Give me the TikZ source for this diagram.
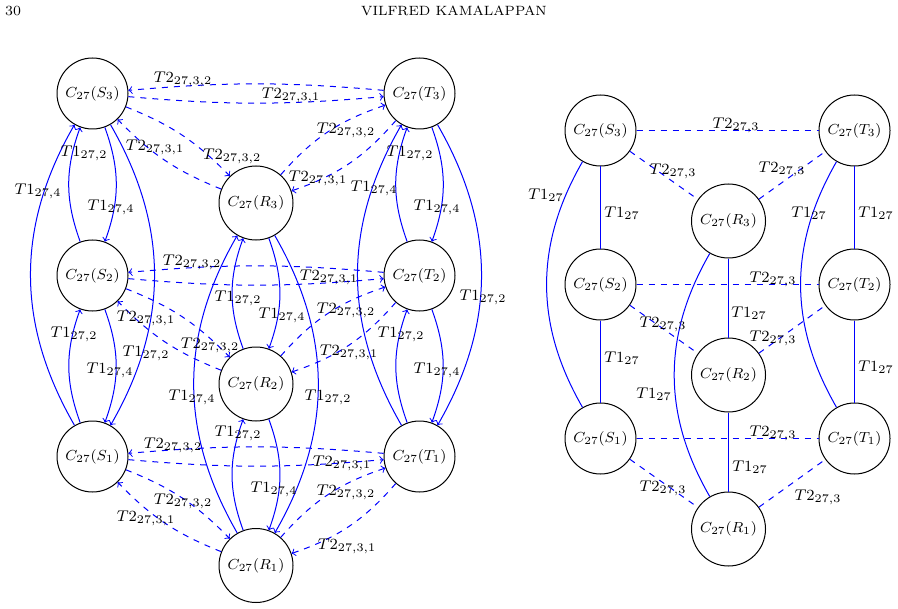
\documentclass[tikz,border=0pt]{standalone}
\usepackage{graphicx}
\newcommand\mynl[1]{\scalebox{0.91}{$#1$}}
\newcommand\myel[1]{\scalebox{0.97}{$#1$}}
\begin{document}
\begin{tikzpicture}[x=0.5pt,y=-0.5pt,
  cnode/.style={circle,draw,line width=0.5pt,minimum size=35.5pt,inner sep=0pt,font=\footnotesize},
  rnode/.style={cnode,minimum size=37pt},
  tone/.style={draw=blue,line width=0.5pt},
  ttwo/.style={draw=blue,line width=0.5pt,dashed},
  lab/.style={font=\footnotesize,inner sep=0pt},
  hdr/.style={font=\scriptsize,inner sep=0pt}]
\useasboundingbox (0,0) rectangle (898,609);
% header
\node[hdr] (pg) at (13,11) {30};
\node[hdr] (au) at (454,11) {\scalebox{0.96}{VILFRED KAMALAPPAN}};
% ---------- left diagram nodes
\node[cnode] (LS3) at (92.5,93.5) {\mynl{C_{27}(S_3)}};
\node[cnode] (LS2) at (92.5,275.5) {\mynl{C_{27}(S_2)}};
\node[cnode] (LS1) at (92.5,456.5) {\mynl{C_{27}(S_1)}};
\node[rnode] (LR3) at (256,203) {\mynl{C_{27}(R_3)}};
\node[rnode] (LR2) at (256,384) {\mynl{C_{27}(R_2)}};
\node[rnode] (LR1) at (256,565.5) {\mynl{C_{27}(R_1)}};
\node[cnode] (LT3) at (419.5,93.5) {\mynl{C_{27}(T_3)}};
\node[cnode] (LT2) at (419.5,275.5) {\mynl{C_{27}(T_2)}};
\node[cnode] (LT1) at (419.5,456.5) {\mynl{C_{27}(T_1)}};
% dashed pairs
\foreach \i in {1,2,3}{
  \draw[ttwo,->] (LT\i) to[bend right=5] (LS\i);
  \draw[ttwo,->] (LS\i) to[bend right=5] (LT\i);
  \draw[ttwo,->] (LS\i) to[bend left=12] (LR\i);
  \draw[ttwo,->] (LR\i) to[bend left=12] (LS\i);
  \draw[ttwo,->] (LR\i) to[bend left=15] (LT\i);
  \draw[ttwo,->] (LT\i) to[bend left=15] (LR\i);
}
% vertical solid arcs
\foreach \c in {S,R,T}{
  \draw[tone,->] (L\c2) to[bend left=20] (L\c3);
  \draw[tone,->] (L\c3) to[bend left=20] (L\c2);
  \draw[tone,->] (L\c1) to[bend left=20] (L\c2);
  \draw[tone,->] (L\c2) to[bend left=20] (L\c1);
  \draw[tone,->] (L\c1) to[bend left=30] (L\c3);
  \draw[tone,->] (L\c3) to[bend left=30] (L\c1);
}
% left labels: T2
\node[lab] (a1) at (183,79) {\myel{T2_{27,3,2}}};
\node[lab] (a2) at (291,95) {\myel{T2_{27,3,1}}};
\node[lab] (a3) at (192,262) {\myel{T2_{27,3,2}}};
\node[lab] (a4) at (329,277) {\myel{T2_{27,3,1}}};
\node[lab] (a5) at (173,445) {\myel{T2_{27,3,2}}};
\node[lab] (a6) at (342,463) {\myel{T2_{27,3,1}}};
\node[lab] (a7) at (232,156) {\myel{T2_{27,3,2}}};
\node[lab] (a8) at (155,147) {\myel{T2_{27,3,1}}};
\node[lab] (a9) at (346,130) {\myel{T2_{27,3,2}}};
\node[lab] (a10) at (318,178) {\myel{T2_{27,3,1}}};
\node[lab] (a11) at (210,345) {\myel{T2_{27,3,2}}};
\node[lab] (a12) at (146,318) {\myel{T2_{27,3,1}}};
\node[lab] (a13) at (346,310) {\myel{T2_{27,3,2}}};
\node[lab] (a14) at (349,352) {\myel{T2_{27,3,1}}};
\node[lab] (a15) at (183,501) {\myel{T2_{27,3,2}}};
\node[lab] (a16) at (146,518) {\myel{T2_{27,3,1}}};
\node[lab] (a17) at (346,492) {\myel{T2_{27,3,2}}};
\node[lab] (a18) at (347,546) {\myel{T2_{27,3,1}}};
% left labels: T1
\node[lab] (b1) at (38,191) {\myel{T1_{27,4}}};
\node[lab] (b2) at (84,153) {\myel{T1_{27,2}}};
\node[lab] (b3) at (111,207) {\myel{T1_{27,4}}};
\node[lab] (b4) at (146,353) {\myel{T1_{27,2}}};
\node[lab] (b5) at (74,334) {\myel{T1_{27,2}}};
\node[lab] (b6) at (110,370) {\myel{T1_{27,4}}};
\node[lab] (b7) at (192,397) {\myel{T1_{27,4}}};
\node[lab] (b8) at (238,298) {\myel{T1_{27,2}}};
\node[lab] (b9) at (282,315) {\myel{T1_{27,4}}};
\node[lab] (b10) at (328,397) {\myel{T1_{27,2}}};
\node[lab] (b11) at (238,433) {\myel{T1_{27,2}}};
\node[lab] (b12) at (274,489) {\myel{T1_{27,4}}};
\node[lab] (b13) at (374,188) {\myel{T1_{27,4}}};
\node[lab] (b14) at (410,153) {\myel{T1_{27,2}}};
\node[lab] (b15) at (437,207) {\myel{T1_{27,4}}};
\node[lab] (b16) at (483,297) {\myel{T1_{27,2}}};
\node[lab] (b17) at (401,334) {\myel{T1_{27,2}}};
\node[lab] (b18) at (437,370) {\myel{T1_{27,4}}};
% ---------- right diagram nodes
\node[cnode] (RS3) at (600.5,130.5) {\mynl{C_{27}(S_3)}};
\node[cnode] (RS2) at (600.5,284.5) {\mynl{C_{27}(S_2)}};
\node[cnode] (RS1) at (600.5,438.5) {\mynl{C_{27}(S_1)}};
\node[rnode] (RR3) at (728.5,221) {\mynl{C_{27}(R_3)}};
\node[rnode] (RR2) at (728.5,375) {\mynl{C_{27}(R_2)}};
\node[rnode] (RR1) at (728.5,529) {\mynl{C_{27}(R_1)}};
\node[cnode] (RT3) at (854.5,130.5) {\mynl{C_{27}(T_3)}};
\node[cnode] (RT2) at (854.5,284.5) {\mynl{C_{27}(T_2)}};
\node[cnode] (RT1) at (854.5,438.5) {\mynl{C_{27}(T_1)}};
\foreach \i in {1,2,3}{
  \draw[ttwo] (RS\i) -- (RT\i);
  \draw[ttwo] (RS\i) -- (RR\i);
  \draw[ttwo] (RR\i) -- (RT\i);
}
\foreach \c in {S,R,T}{
  \draw[tone] (R\c3) -- (R\c2);
  \draw[tone] (R\c2) -- (R\c1);
  \draw[tone] (R\c3) to[bend right=30] (R\c1);
}
\node[lab] (c1) at (736,125) {\myel{T2_{27,3}}};
\node[lab] (c2) at (673,171) {\myel{T2_{27,3}}};
\node[lab] (c3) at (782,169) {\myel{T2_{27,3}}};
\node[lab] (c4) at (773,279) {\myel{T2_{27,3}}};
\node[lab] (c5) at (663,324) {\myel{T2_{27,3}}};
\node[lab] (c6) at (773,338) {\myel{T2_{27,3}}};
\node[lab] (c7) at (773,433) {\myel{T2_{27,3}}};
\node[lab] (c8) at (663,488) {\myel{T2_{27,3}}};
\node[lab] (c9) at (818,497) {\myel{T2_{27,3}}};
\node[lab] (d1) at (622,213) {\myel{T1_{27}}};
\node[lab] (d2) at (876,213) {\myel{T1_{27}}};
\node[lab] (d3) at (546,195) {\myel{T1_{27}}};
\node[lab] (d4) at (809,213) {\myel{T1_{27}}};
\node[lab] (d5) at (749,313) {\myel{T1_{27}}};
\node[lab] (d6) at (654,394) {\myel{T1_{27}}};
\node[lab] (d7) at (622,358) {\myel{T1_{27}}};
\node[lab] (d8) at (876,367) {\myel{T1_{27}}};
\node[lab] (d9) at (750,467) {\myel{T1_{27}}};
\end{tikzpicture}
\end{document}
